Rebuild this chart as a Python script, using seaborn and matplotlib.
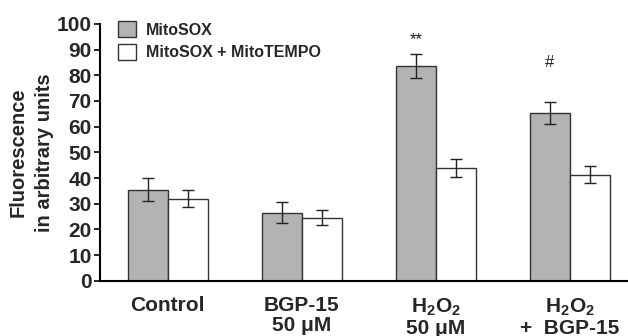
import matplotlib
matplotlib.use("Agg")
import matplotlib.pyplot as plt
import seaborn as sns
import pandas as pd
import numpy as np
from matplotlib.patches import Patch

groups = ["Control", "BGP-15\n50 \u03bcM", "H$_\\mathbf{2}$O$_\\mathbf{2}$\n50 \u03bcM",
          "H$_\\mathbf{2}$O$_\\mathbf{2}$\n+  BGP-15"]
series = ["MitoSOX", "MitoSOX + MitoTEMPO"]
mitosox = [35.5, 26.5, 83.5, 65.3]
mitosox_err = [4.4, 4.0, 4.6, 4.2]
mitotempo = [32.0, 24.5, 44.0, 41.3]
mitotempo_err = [3.3, 2.9, 3.6, 3.4]
annotations = ["", "", "**", "#"]
annotation_y = [0, 0, 94, 85]

sns.set_theme(style="white")
plt.rcParams["font.family"] = ["Liberation Sans", "DejaVu Sans"]
plt.rcParams["font.weight"] = "bold"
plt.rcParams["mathtext.fontset"] = "custom"
plt.rcParams["mathtext.bf"] = "Liberation Sans:bold"
plt.rcParams["mathtext.rm"] = "Liberation Sans:bold"

df = pd.DataFrame({
    "group": groups * 2,
    "series": [series[0]] * 4 + [series[1]] * 4,
    "value": mitosox + mitotempo,
})

fig = plt.figure(figsize=(6.28, 3.36), dpi=100)
ax = fig.add_axes([0.159, 0.164, 0.841, 0.765])
sns.barplot(data=df, x="group", y="value", hue="series", order=groups,
            hue_order=series, palette=["#b3b3b3", "#ffffff"], width=0.6,
            errorbar=None, edgecolor="#333333", linewidth=1.0, ax=ax,
            legend=False)

bars = ax.patches
errs = mitosox_err + mitotempo_err
vals = mitosox + mitotempo
xs = [b.get_x() + b.get_width() / 2 for b in bars[:8]]
ax.errorbar(xs, vals, yerr=errs, fmt="none", ecolor="#222222", elinewidth=1.0,
            capsize=4, capthick=1.0)

for i, a in enumerate(annotations):
    if a:
        ax.text(xs[i], annotation_y[i], a, ha="center", va="center", fontsize=12,
                color="#222222", fontweight="normal")

handles = [Patch(facecolor="#b3b3b3", edgecolor="#333333", linewidth=1.0),
           Patch(facecolor="#ffffff", edgecolor="#333333", linewidth=1.0)]
ax.legend(handles, series, loc="upper left", bbox_to_anchor=(0.022, 1.035),
          frameon=False, prop={"size": 11.5, "weight": "bold"},
          handlelength=1.15, handleheight=1.15, handletextpad=0.6,
          labelspacing=0.4, borderaxespad=0)

ax.set_ylim(0, 100)
ax.set_xlim(-0.507, 3.433)
ax.set_yticks(range(0, 101, 10))
ax.set_xlabel("")
ax.set_ylabel("Fluorescence\nin arbitrary units", fontsize=14.5, fontweight="bold",
              labelpad=2, linespacing=1.45)
ax.tick_params(axis="y", left=True, length=4, width=1.2, direction="out",
               labelsize=15, pad=2, color="black")
ax.tick_params(axis="x", bottom=False, labelsize=15, pad=5)
for lab in ax.get_xticklabels() + ax.get_yticklabels():
    lab.set_fontweight("bold")
    lab.set_linespacing(1.05)
for s in ["top", "right"]:
    ax.spines[s].set_visible(False)
for s in ["left", "bottom"]:
    ax.spines[s].set_color("black")
    ax.spines[s].set_linewidth(1.5)
ax.set_facecolor("white")
fig.patch.set_facecolor("white")
fig.savefig("out.png", dpi=100)
